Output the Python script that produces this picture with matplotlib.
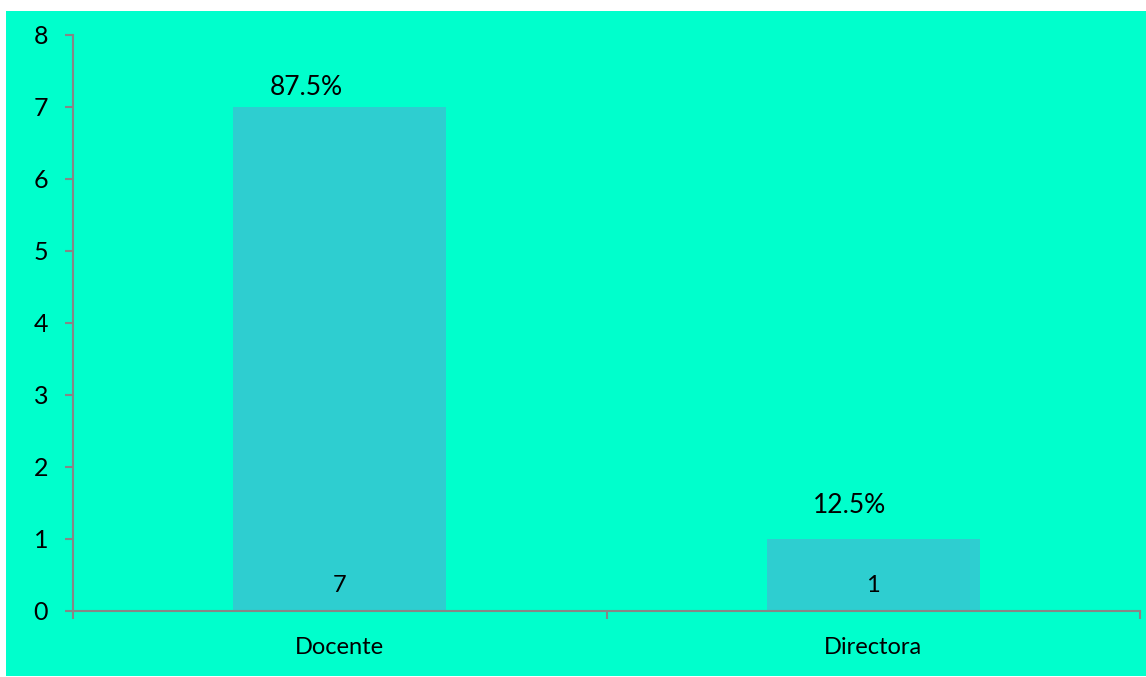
import matplotlib.pyplot as plt
from matplotlib.patches import Rectangle

categories = ["Docente", "Directora"]
counts = [7, 1]
percent_labels = ["87.5%", "12.5%"]

plt.rcParams['font.family'] = ['Lato', 'DejaVu Sans']

bg = "#00FFCC"
bar_color = "#2ECED0"
axis_gray = "#868686"
pct_offsets = [(-24, 14), (-17, 24)]  # label shift in points from bar top centre

fig = plt.figure(figsize=(11.46, 6.77), dpi=100)
# coloured chart area with a thin white margin on top/left like the original
fig.patches.append(Rectangle((6 / 1146, 1 / 677), 1 - 6 / 1146, 1 - 12 / 677,
                             transform=fig.transFigure, facecolor=bg,
                             edgecolor="none", zorder=-1))

ax = fig.add_axes([73 / 1146, 66 / 677, 1067 / 1146, 576 / 677])
ax.set_facecolor("none")
ax.set_zorder(2)

x = list(range(len(categories)))
bars = ax.bar(x, counts, width=0.4, color=bar_color, zorder=2)

for xi, c, p, off in zip(x, counts, percent_labels, pct_offsets):
    ax.annotate(str(c), (xi, 0), xytext=(0, 18), textcoords="offset points",
                ha="center", va="center", fontsize=17)
    ax.annotate(p, (xi, c), xytext=off, textcoords="offset points",
                ha="center", va="center", fontsize=19)

ax.set_xlim(-0.5, len(categories) - 0.5)
ax.set_ylim(0, 8)
ax.set_yticks(range(0, 9))
ax.set_xticks(x)
ax.set_xticklabels(categories)
ax.set_xticks([-0.5, 0.5, 1.5], minor=True)

for s in ["top", "right"]:
    ax.spines[s].set_visible(False)
for s in ["left", "bottom"]:
    ax.spines[s].set_color(axis_gray)
    ax.spines[s].set_linewidth(1.5)

ax.tick_params(axis="y", direction="out", length=6, width=1.5, color=axis_gray,
               labelsize=18, pad=12)
ax.tick_params(axis="x", which="major", length=0, labelsize=17, pad=19)
ax.tick_params(axis="x", which="minor", direction="out", length=6, width=1.5,
               color=axis_gray)

fig.savefig("out.png", dpi=100, facecolor="white")
